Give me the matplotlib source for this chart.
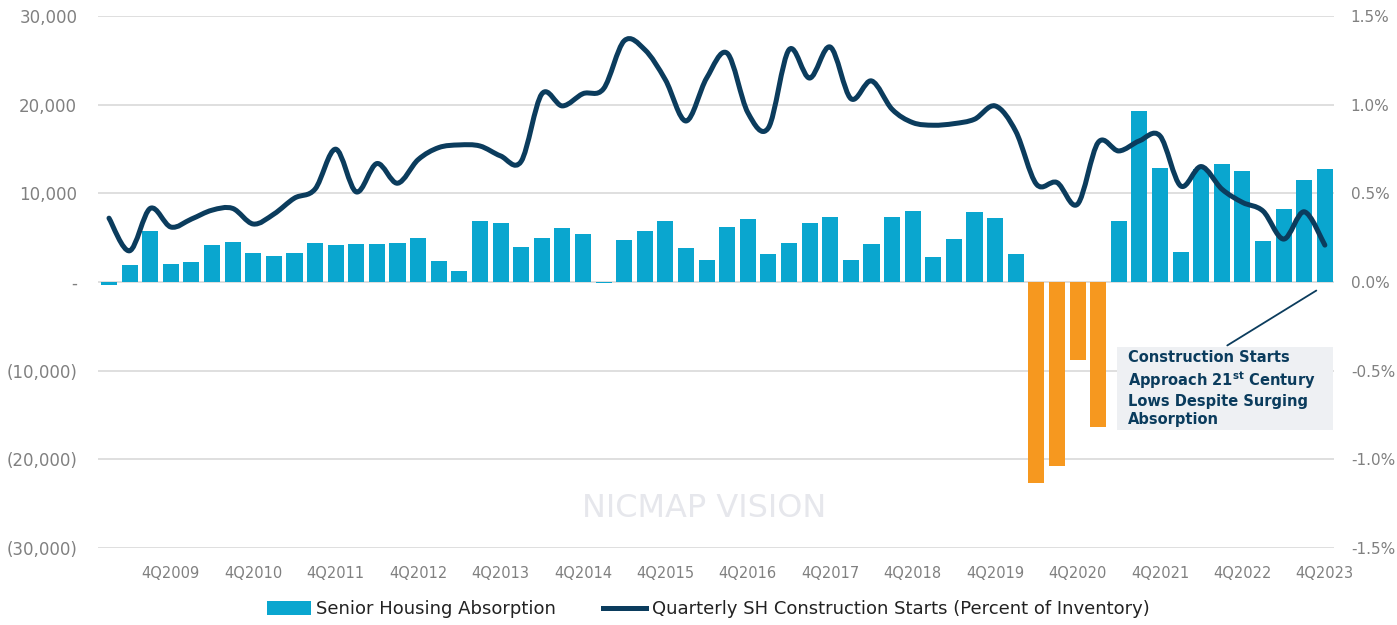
import matplotlib
matplotlib.use("Agg")
import matplotlib.pyplot as plt
import numpy as np
from matplotlib.path import Path
from matplotlib.patches import PathPatch, Rectangle, Patch
from matplotlib.lines import Line2D
from matplotlib.ticker import FixedLocator, FuncFormatter

# quarterly data, 1Q2009 .. 4Q2023
absorption = [-300, 1900, 5800, 2000, 2300, 4200, 4500, 3300, 2900, 3300,
              4450, 4200, 4250, 4250, 4450, 4950, 2400, 1250, 6900, 6650,
              3950, 4950, 6050, 5400, -150, 4750, 5750, 6900, 3850, 2500,
              6150, 7100, 3150, 4350, 6600, 7300, 2500, 4250, 7300, 8000,
              2850, 4900, 7900, 7200, 3150, -22700, -20700, -8800, -16300, 6900,
              19300, 12900, 3350, 12700, 13350, 12550, 4650, 8200, 11500, 12800]

starts_pct = [0.36, 0.176, 0.415, 0.31, 0.355, 0.405, 0.415, 0.327, 0.383, 0.473,
              0.524, 0.749, 0.508, 0.668, 0.557, 0.69, 0.758, 0.773, 0.767, 0.711,
              0.68, 1.06, 0.993, 1.062, 1.09, 1.36, 1.31, 1.14, 0.908, 1.15,
              1.29, 0.955, 0.87, 1.31, 1.15, 1.325, 1.034, 1.134, 0.974, 0.899,
              0.884, 0.893, 0.918, 0.993, 0.85, 0.552, 0.561, 0.439, 0.787, 0.739,
              0.796, 0.824, 0.542, 0.651, 0.524, 0.449, 0.40, 0.242, 0.396, 0.208]

tick_labels = ["4Q2009", "4Q2010", "4Q2011", "4Q2012", "4Q2013", "4Q2014",
               "4Q2015", "4Q2016", "4Q2017", "4Q2018", "4Q2019", "4Q2020",
               "4Q2021", "4Q2022", "4Q2023"]

left_ticks = [30000, 20000, 10000, 0, -10000, -20000, -30000]
right_ticks = [1.5, 1.0, 0.5, 0.0, -0.5, -1.0, -1.5]

BLUE = "#0AA6CF"
ORANGE = "#F6981F"
NAVY = "#0B3C5D"
GRAY = "#808080"
GRID = "#D9D9D9"


def smooth_path(xs, ys):
    """Catmull-Rom style bezier path (like Excel's smoothed line)."""
    pts = np.column_stack([xs, ys])
    verts = [pts[0]]
    codes = [Path.MOVETO]
    n = len(pts)
    for i in range(n - 1):
        p0 = pts[i - 1] if i > 0 else pts[i]
        p1 = pts[i]
        p2 = pts[i + 1]
        p3 = pts[i + 2] if i + 2 < n else pts[i + 1]
        c1 = p1 + (p2 - p0) / 6.0
        c2 = p2 - (p3 - p1) / 6.0
        verts += [c1, c2, p2]
        codes += [Path.CURVE4] * 3
    return Path(verts, codes)


def fmt_left(v, pos):
    if v == 0:
        return "-"
    if v < 0:
        return f"({abs(v):,.0f})"
    return f"{v:,.0f}"


x = np.arange(len(absorption))
colors = [ORANGE if v < -1000 else BLUE for v in absorption]

fig = plt.figure(figsize=(13.97, 6.25), dpi=100)
ax = fig.add_axes([0.0702, 0.1232, 0.8848, 0.8512])
ax2 = ax.twinx()

ax.bar(x, absorption, width=0.78, color=colors, zorder=2)
ax.set_ylim(-30000, 30000)
ax.set_xlim(-0.53, len(x) - 0.55)
ax.yaxis.set_major_locator(FixedLocator(left_ticks))
ax.yaxis.set_major_formatter(FuncFormatter(fmt_left))
ax.grid(axis="y", color=GRID, linewidth=1.2, zorder=0)
ax.set_axisbelow(True)

tick_pos = [i for i in range(3, len(x), 4)]
ax.set_xticks(tick_pos)
ax.set_xticklabels(tick_labels)

patch = PathPatch(smooth_path(x, starts_pct), facecolor="none",
                  edgecolor=NAVY, lw=3.6, capstyle="round", joinstyle="round", zorder=3)
ax2.add_patch(patch)
ax2.set_ylim(-1.5, 1.5)
ax2.yaxis.set_major_locator(FixedLocator(right_ticks))
ax2.yaxis.set_major_formatter(FuncFormatter(lambda v, p: f"{v:.1f}%"))

for a in (ax, ax2):
    for s in a.spines.values():
        s.set_visible(False)
    a.tick_params(length=0, colors=GRAY, labelsize=12)
ax.tick_params(axis="y", pad=15)
ax.tick_params(axis="x", labelsize=10.5, pad=13)
ax2.tick_params(axis="y", pad=12, labelsize=11)

# watermark
ax.text(0.49, 0.075, "NICMAP VISION", transform=ax.transAxes, ha="center",
        va="center", fontsize=23, color="#E6E7EC", zorder=1)

# annotation box + leader line
ax.add_patch(Rectangle((48.9, -16670), 10.49, 9350, facecolor="#EEF0F3",
                       edgecolor="none", zorder=4))
ax.annotate("", xy=(58.7, -800), xytext=(54.15, -7320),
            arrowprops=dict(arrowstyle="-", color=NAVY, lw=1.3), zorder=5)
plt.rcParams["mathtext.default"] = "bf"
ax.text(49.45, -7650,
        "Construction Starts\nApproach 21$^{st}$ Century\nLows Despite Surging\nAbsorption",
        ha="left", va="top", fontsize=10.5, fontweight="bold", color=NAVY,
        linespacing=1.25, zorder=6)

handles = [Patch(facecolor=BLUE, edgecolor="none"),
           Line2D([0], [0], color=NAVY, lw=3.6)]
fig.legend(handles, ["Senior Housing Absorption",
                     "Quarterly SH Construction Starts (Percent of Inventory)"],
           loc="lower center", bbox_to_anchor=(0.507, -0.015), ncol=2, frameon=False,
           fontsize=13, handlelength=2.4, handleheight=0.8, columnspacing=2.6,
           handletextpad=0.3, labelcolor="#222222")

fig.savefig("out.png", dpi=100)
